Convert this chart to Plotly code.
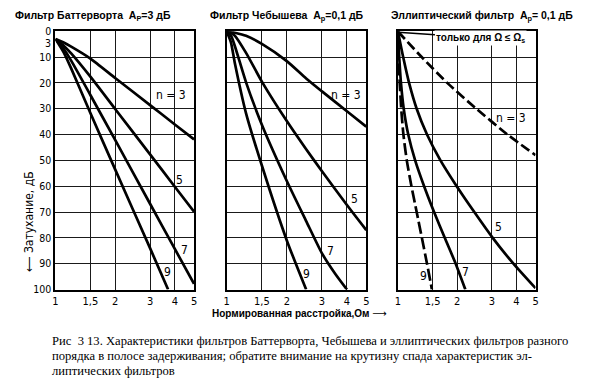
import math
import plotly.graph_objects as go

# ---------------- data ----------------
# Butterworth, Ap = 3 dB
bw_x = [1, 1.1, 1.2, 1.5, 2, 3, 4, 5]
bw_n3 = [3, 4.4, 6.0, 10.6, 18.1, 28.6, 36.1, 41.9]
bw_n5 = [3, 5.6, 8.6, 17.6, 30.1, 47.7, 60.2, 69.9]
bw_n7 = [3, 6.8, 11.4, 24.7, 42.1, 66.8, 84.3, 97.8]
bw_x9 = [1, 1.1, 1.2, 1.5, 2, 3, 3.7]
bw_n9 = [3, 8.2, 14.4, 31.7, 53.5, 84.0, 100]

# Chebyshev, Ap = 0.1 dB
ch_x = [1, 1.05, 1.1, 1.25, 1.5, 2, 2.5, 3, 4, 5]
ch_n3 = [0.1, 0.3, 0.6, 1.8, 4.9, 11.6, 18.3, 23.3, 31.0, 37.0]
ch_n5 = [0.1, 0.6, 1.8, 8.4, 19.5, 34.8, 45.7, 54.2, 67.3, 77.0]
ch_x7 = [1, 1.05, 1.1, 1.25, 1.5, 2, 2.5, 3, 3.5, 4]
ch_n7 = [0.1, 1.7, 5.9, 19.8, 36.2, 58.0, 73.5, 86.0, 94.0, 100]
ch_x9 = [1, 1.05, 1.1, 1.25, 1.5, 2, 2.5]
ch_n9 = [0.1, 4.3, 12.6, 31.8, 52.0, 81.0, 100]

# Elliptic, Ap = 0.1 dB
el_y = [0.1, 10, 20, 30, 40, 50, 60, 70, 80, 90, 100]
el_x3 = [1, 1.32, 1.78, 2.5, 3.6, 5]
el_n3 = [0.1, 10, 20, 30, 40, 48]
el_x5 = [1, 1.063, 1.139, 1.245, 1.405, 1.644, 1.988, 2.443, 3.03, 3.86, 5]
el_n5 = [0.1, 10, 20, 30, 40, 50, 60, 70, 80, 90, 99.5]
el_x7 = [1, 1.015, 1.036, 1.07, 1.128, 1.223, 1.358, 1.526, 1.729, 1.965, 2.2]
el_x9 = [1, 1.008, 1.021, 1.039, 1.066, 1.109, 1.171, 1.245, 1.323, 1.405, 1.488]

x_ticks = [1, 1.5, 2, 3, 4, 5]
x_ticktext = ["1", "1,5", "2", "3", "4", "5"]
y_ticks = [0, 10, 20, 30, 40, 50, 60, 70, 80, 90, 100]
y_ticktext = [str(v) for v in y_ticks]
y_extra_tick = 3

titles = ["Фильтр Баттерворта  A<sub>P</sub>=3 дБ",
          "Фильтр Чебышева  A<sub>p</sub>=0,1 дБ",
          "Эллиптический фильтр  A<sub>p</sub>= 0,1 дБ"]

# ---------------- figure ----------------
W, H = 590, 390
narrow = "Liberation Sans Narrow, DejaVu Sans Condensed, Arial Narrow, Liberation Sans, sans-serif"
boldf = "Liberation Sans, Arial, DejaVu Sans, sans-serif"

fig = go.Figure()

def add(x, y, ax, dash="solid"):
    fig.add_trace(go.Scatter(x=x, y=y, mode="lines", xaxis=ax[0], yaxis=ax[1],
                             line=dict(color="black", width=2.7, dash=dash,
                                       shape="spline", smoothing=0.6),
                             showlegend=False, hoverinfo="skip"))

add(bw_x, bw_n3, ("x", "y"))
add(bw_x, bw_n5, ("x", "y"))
add(bw_x, bw_n7, ("x", "y"))
add(bw_x9, bw_n9, ("x", "y"))

add(ch_x, ch_n3, ("x2", "y2"))
add(ch_x, ch_n5, ("x2", "y2"))
add(ch_x7, ch_n7, ("x2", "y2"))
add(ch_x9, ch_n9, ("x2", "y2"))

add(el_x3, el_n3, ("x3", "y3"), dash="10px,4px")
add(el_x5, el_n5, ("x3", "y3"))
add(el_x7, el_y, ("x3", "y3"))
add(el_x9, el_y, ("x3", "y3"), dash="12px,4px")

# domains in pixels
xdom = [(53, 193), (226, 367), (399, 538)]
ytop, ybot = 26, 292.5
ydom = [1 - ybot / H, 1 - ytop / H]

for i, (a, b) in enumerate(xdom):
    sfx = "" if i == 0 else str(i + 1)
    fig.layout["xaxis" + sfx] = dict(
        type="log", range=[0, math.log10(5)], domain=[a / W, b / W],
        anchor="y" + sfx, tickmode="array", tickvals=x_ticks, ticktext=x_ticktext,
        showgrid=True, gridcolor="#1a1a1a", gridwidth=1.4,
        showline=True, mirror=True, linecolor="black", linewidth=2,
        ticks="", tickfont=dict(family=narrow, size=11, color="black"),
        zeroline=False, fixedrange=True)
    fig.layout["yaxis" + sfx] = dict(
        range=[100, 0], domain=ydom, anchor="x" + sfx,
        tickmode="array", tickvals=y_ticks, ticktext=y_ticktext,
        showticklabels=(i == 0), showgrid=True,
        gridcolor="#1a1a1a", gridwidth=1.4,
        showline=True, mirror=True, linecolor="black", linewidth=2,
        ticks="", tickfont=dict(family=narrow, size=10.5, color="black"),
        zeroline=False, fixedrange=True)

ann = []
# extra "3" tick label on the left axis
ann.append(dict(text=str(y_extra_tick), xref="x domain", yref="y", x=0, y=y_extra_tick + 1.6,
                xanchor="right", yanchor="middle", xshift=-2, showarrow=False,
                font=dict(family=narrow, size=10.5, color="black")))

# panel titles
title_pos = [(10, 10), (207, 10), (390, 10)]
for t, (px, py) in zip(titles, title_pos):
    ann.append(dict(text="<b>" + t + "</b>", xref="paper", yref="paper",
                    x=px / W, y=1 - py / H, xanchor="left", yanchor="middle",
                    showarrow=False, font=dict(family=boldf, size=10.5, color="black")))

# curve labels (axis coords; x in log10)
labels = [
    ("x", "y", 3.84, 24.7, "n = 3"), ("x", "y", 4.2, 57.7, "5"),
    ("x", "y", 4.46, 84.7, "7"), ("x", "y", 3.66, 93.4, "9"),
    ("x2", "y2", 3.98, 24.7, "n = 3"), ("x2", "y2", 4.36, 64.9, "5"),
    ("x2", "y2", 3.31, 85.1, "7"), ("x2", "y2", 2.52, 94.1, "9"),
    ("x3", "y3", 3.75, 33.5, "n = 3"), ("x3", "y3", 3.26, 75.7, "5"),
    ("x3", "y3", 2.20, 93.4, "7"), ("x3", "y3", 1.35, 94.9, "9"),
]
for xr, yr, xv, yv, t in labels:
    ann.append(dict(text=t, xref=xr, yref=yr, x=math.log10(xv), y=yv,
                    showarrow=False, xanchor="center", yanchor="middle",
                    font=dict(family=narrow, size=12, color="black")))

# note in elliptic panel with leader line
ann.append(dict(text="<b>только для Ω ≤ Ω<sub>s</sub></b>", xref="x3", yref="y3",
                x=0.0, y=0.4, axref="x3", ayref="y3",
                ax=math.log10(2.64), ay=2.6, showarrow=True, arrowhead=0,
                arrowwidth=1.3, arrowcolor="black", bgcolor="white",
                font=dict(family=boldf, size=10, color="black")))

# axis titles
ann.append(dict(text="⟵ Затухание, дБ", xref="paper", yref="paper",
                x=17 / W, y=1 - 222 / H, textangle=-90, showarrow=False,
                font=dict(family=narrow, size=12, color="black")))
ann.append(dict(text="<b>Нормированная расстройка,Ом</b> ⟶", xref="paper", yref="paper",
                x=300 / W, y=1 - 325 / H, showarrow=False,
                font=dict(family=boldf, size=10, color="black")))

# caption
caption = ["Рис  3 13. Характеристики фильтров Баттерворта, Чебышева и эллиптических фильтров разного",
           "порядка в полосе задерживания; обратите внимание на крутизну спада характеристик эл-",
           "липтических фильтров"]
for k, line in enumerate(caption):
    ann.append(dict(text=line, xref="paper", yref="paper", x=47 / W,
                    y=1 - (346 + 15.5 * k) / H, xanchor="left", yanchor="middle",
                    showarrow=False,
                    font=dict(family="Liberation Serif, Times New Roman, serif",
                              size=12.6, color="black")))

fig.update_layout(width=W, height=H, margin=dict(l=0, r=0, t=0, b=0),
                  paper_bgcolor="white", plot_bgcolor="white",
                  annotations=ann, showlegend=False)

fig.write_html("out.html", config={"displayModeBar": False},
               post_script="document.body.style.margin='0';document.body.style.overflow='hidden';")
